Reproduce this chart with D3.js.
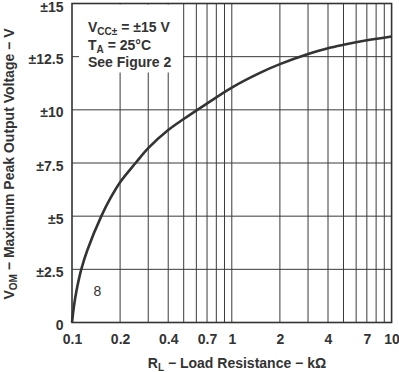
<!DOCTYPE html>
<html><head><meta charset="utf-8">
<script src="https://cdn.jsdelivr.net/npm/d3@7"></script>
<style>
body{margin:0;background:#fff;}
svg{display:block;font-family:"Liberation Sans",Arial,sans-serif;}
</style></head>
<body><svg id="c" width="399" height="372"></svg>
<script>
// Data
const loadResistance = [0.1, 0.103, 0.1064, 0.1143, 0.1247, 0.1526, 0.175, 0.2, 0.25, 0.3, 0.4, 0.5, 0.7, 1, 1.5, 2, 3, 4, 5, 7, 10];
const peakVoltage   = [0, 0.8, 1.45, 2.5, 3.4, 5, 5.88, 6.6, 7.5, 8.2, 9.05, 9.57, 10.3, 11.05, 11.74, 12.15, 12.63, 12.9, 13.06, 13.27, 13.45];
const xGridValues = [0.2,0.3,0.4,0.5,0.6,0.7,0.8,0.9,1,2,3,4,5,6,7,8,9];
const xTickValues = [0.1,0.2,0.4,0.7,1,2,4,7,10];
const xTickLabels = ["0.1","0.2","0.4","0.7","1","2","4","7","10"];
const yTickValues = [0,2.5,5,7.5,10,12.5,15];
const yTickLabels = ["0","±2.5","±5","±7.5","±10","±12.5","±15"];

const svg = d3.select("#c");
const L = 72, R = 391.6, T = 3.5, B = 322.5;
const x = d3.scaleLog().domain([0.1,10]).range([L,R]);
const y = d3.scaleLinear().domain([0,15]).range([B,T]);
const ink = "#333";

const grid = svg.append("g");
grid.selectAll("line.v").data(xGridValues).join("line")
  .attr("x1",d=>x(d)).attr("x2",d=>x(d)).attr("y1",T).attr("y2",B)
  .attr("stroke","#3a3a3a").attr("stroke-width",1);
grid.selectAll("line.h").data(yTickValues.slice(1,-1)).join("line")
  .attr("x1",L).attr("x2",R).attr("y1",d=>y(d)).attr("y2",d=>y(d))
  .attr("stroke","#3a3a3a").attr("stroke-width",1);

// annotation background masks gridlines
svg.append("rect").attr("x",79).attr("y",T+1).attr("width",104).attr("height",68).attr("fill","#fff");

// frame
svg.append("rect").attr("x",L).attr("y",T).attr("width",R-L).attr("height",B-T)
  .attr("fill","none").attr("stroke",ink).attr("stroke-width",1.6);

// curve
const pts = loadResistance.map((r,i)=>[r,peakVoltage[i]]);
svg.append("path").datum(pts)
  .attr("d", d3.line().x(d=>x(d[0])).y(d=>y(d[1])).curve(d3.curveCatmullRom.alpha(0.5)))
  .attr("fill","none").attr("stroke",ink).attr("stroke-width",2.6);

// axes (labels only)
const xAxis = d3.axisBottom(x).tickValues(xTickValues).tickSize(0).tickPadding(0)
  .tickFormat((d,i)=>xTickLabels[i]);
const gx = svg.append("g").attr("transform",`translate(0,${B})`).call(xAxis);
gx.select(".domain").remove();
gx.selectAll("text").attr("y",21).attr("dy",0).attr("font-size",14).attr("font-weight","bold")
  .attr("fill",ink).attr("font-family","Liberation Sans, Arial, sans-serif");

const yAxis = d3.axisLeft(y).tickValues(yTickValues).tickSize(0).tickPadding(0)
  .tickFormat((d,i)=>yTickLabels[i]);
const gy = svg.append("g").attr("transform",`translate(${L-8.5},0)`).call(yAxis);
gy.select(".domain").remove();
gy.selectAll("text").attr("x",0).attr("dy",(d)=>d===15?"0.56em":"0.5em").attr("font-size",14).attr("font-weight","bold")
  .attr("fill",ink).attr("font-family","Liberation Sans, Arial, sans-serif");

// annotation
const ann = svg.append("g").attr("font-size",14).attr("font-weight","bold").attr("fill",ink);
const t1 = ann.append("text").attr("x",88).attr("y",31.5);
t1.append("tspan").text("V");
t1.append("tspan").attr("font-size",10).attr("dy",3).text("CC±");
t1.append("tspan").attr("dy",-3).text(" = ±15 V");
const t2 = ann.append("text").attr("x",88).attr("y",49.5);
t2.append("tspan").text("T");
t2.append("tspan").attr("font-size",10).attr("dy",3).text("A");
t2.append("tspan").attr("dy",-3).text(" = 25°C");
ann.append("text").attr("x",88).attr("y",67).text("See Figure 2");

// curve label
svg.append("text").attr("x",97.5).attr("y",296).attr("text-anchor","middle")
  .attr("font-size",14).attr("fill",ink).text("8");

// x title
const xt = svg.append("text").attr("x",237).attr("y",368).attr("text-anchor","middle")
  .attr("font-size",14).attr("font-weight","bold").attr("fill",ink);
xt.append("tspan").text("R");
xt.append("tspan").attr("font-size",10).attr("dy",3).text("L");
xt.append("tspan").attr("dy",-3).text(" − Load Resistance − kΩ");

// y title
const yt = svg.append("text").attr("transform","translate(14,164) rotate(-90)").attr("text-anchor","middle")
  .attr("font-size",14).attr("font-weight","bold").attr("fill",ink);
yt.append("tspan").text("V");
yt.append("tspan").attr("font-size",10).attr("dy",3).text("OM");
yt.append("tspan").attr("dy",-3).text(" − Maximum Peak Output Voltage − V");
</script></body></html>
